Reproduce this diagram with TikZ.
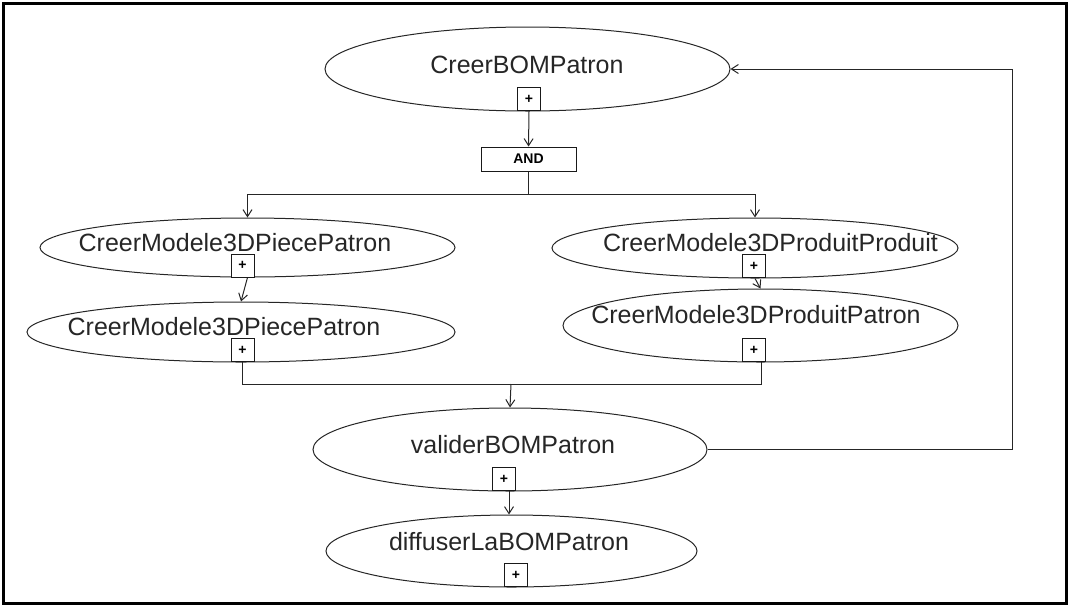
\documentclass[tikz,border=0pt]{standalone}
\usepackage{fontspec}
\setmainfont{Liberation Sans}
\usetikzlibrary{shapes.geometric,arrows.meta,calc}
\tikzset{
  act/.style 2 args={ellipse,draw=black!85,line width=1pt,inner sep=0pt,minimum width=#1,minimum height=#2},
  lbl/.style={inner sep=0pt,font=\fontsize{25}{29}\selectfont,text=black!85},
  plusbox/.style={draw=black!90,fill=white,line width=1pt,minimum width=23pt,minimum height=23pt,inner sep=0pt,font=\fontsize{14}{14}\selectfont\bfseries},
  andbox/.style={draw=black!90,fill=white,line width=1pt,minimum width=95pt,minimum height=24pt,inner sep=0pt,font=\fontsize{14}{14}\selectfont\bfseries},
  conn/.style={draw=black!85,line width=1pt},
  arr/.style={conn,-{Straight Barb[length=7pt,width=9pt]}}
}
\begin{document}
\begin{tikzpicture}[x=1pt,y=-1pt]
\useasboundingbox (0,0) rectangle (1070,606);
\draw[line width=3pt,black] (3.5,3.5) rectangle (1066,603);

% ellipses
\node[act={405pt}{84pt}] (top) at (527.5,69) {};
\node[act={415pt}{59pt}] (e1) at (247.5,247.5) {};
\node[act={428pt}{60pt}] (e2) at (241,332) {};
\node[act={406pt}{60pt}] (e3) at (755,248) {};
\node[act={395pt}{73pt}] (e4) at (760.5,325.5) {};
\node[act={394pt}{83pt}] (val) at (510,449.5) {};
\node[act={371pt}{72pt}] (dif) at (511.5,551) {};

% labels
\node[lbl] (t0) at (527,65) {CreerBOMPatron};
\node[lbl] (t1) at (235,243) {CreerModele3DPiecePatron};
\node[lbl] (t2) at (224,327) {CreerModele3DPiecePatron};
\node[lbl] (t3) at (770.5,243) {CreerModele3DProduitProduit};
\node[lbl] (t4) at (756,315) {CreerModele3DProduitPatron};
\node[lbl] (t5) at (513,445) {validerBOMPatron};
\node[lbl] (t6) at (509,542) {diffuserLaBOMPatron};

% AND gate
\node[andbox] (and) at (528.5,159) {AND};

% junction coordinates
\coordinate (jt) at (528.5,194);
\coordinate (jb) at (511,384);
\coordinate (fb) at (1012,0);

% connectors
\draw[arr] (529,111) -- (and.north);
\draw[conn] (and.south) -- (jt);
\draw[arr] (jt) -| (e1.north);
\draw[arr] (jt) -| (e3.north);
\draw[arr] (e1.south) -- (e2.north);
\draw[arr] (e3.south) -- (e4.north);
\draw[conn] (242.5,362) |- (jb);
\draw[conn] (761,362) |- (jb);
\draw[arr] (jb) -- (val.north);
\coordinate (v5) at (509,491);
\draw[arr] (v5) -- (v5 |- dif.north);
\draw[arr] (val.east) -- (val.east -| fb) |- (top.east);

% plus boxes
\node[plusbox] (p0) at (529,99) {+};
\node[plusbox] (p1) at (242.5,265.5) {+};
\node[plusbox] (p2) at (242.5,350) {+};
\node[plusbox] (p3) at (754,266) {+};
\node[plusbox] (p4) at (754,350) {+};
\node[plusbox] (p5) at (504,479) {+};
\node[plusbox] (p6) at (516,575) {+};
\end{tikzpicture}
\end{document}
